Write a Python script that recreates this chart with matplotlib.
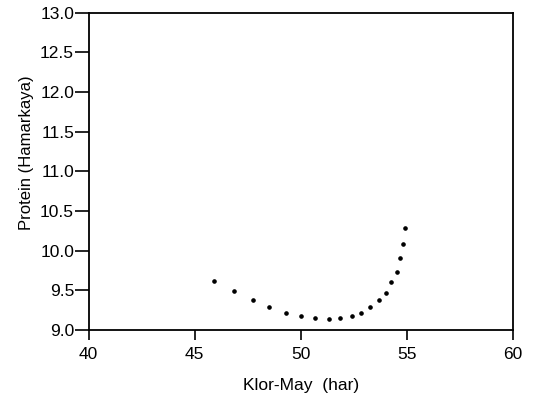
import matplotlib
matplotlib.use("Agg")
import matplotlib.pyplot as plt

klor_may = [45.90, 46.83, 47.75, 48.50, 49.32, 50.01, 50.68, 51.34, 51.84, 52.42,
            52.83, 53.25, 53.68, 54.00, 54.25, 54.52, 54.66, 54.83, 54.93]
protein = [9.62, 9.49, 9.38, 9.29, 9.22, 9.175, 9.154, 9.134, 9.154, 9.175,
           9.22, 9.29, 9.38, 9.465, 9.60, 9.73, 9.91, 10.09, 10.285]

x_ticks = [40, 45, 50, 55, 60]
y_ticks = [9.0, 9.5, 10.0, 10.5, 11.0, 11.5, 12.0, 12.5, 13.0]

plt.rcParams['font.family'] = ['Liberation Sans', 'DejaVu Sans']

fig = plt.figure(figsize=(5.33, 3.99), dpi=100)
ax = fig.add_axes([0.1664, 0.1729, 0.962 - 0.1664, 0.968 - 0.1729])
ax.plot(klor_may, protein, linestyle='none', marker='o', markersize=2.3, color='black')

ax.set_xlim(40, 60)
ax.set_ylim(9.0, 13.0)
ax.set_xticks(x_ticks)
ax.set_xticklabels([str(v) for v in x_ticks])
ax.set_yticks(y_ticks)
ax.set_yticklabels([f"{v:.1f}" for v in y_ticks])
ax.tick_params(direction='out', width=1.2, labelsize=12.5, colors='black')
ax.tick_params(axis='x', length=7, pad=5.5)
ax.tick_params(axis='y', length=10, pad=0.5)
for s in ax.spines.values():
    s.set_linewidth(1.3)

ax.set_xlabel("Klor-May  (har)", fontsize=12.5, labelpad=11)
ax.set_ylabel("Protein (Hamarkaya)", fontsize=12)
ax.yaxis.set_label_coords(-0.13, 0.558)

fig.savefig("out.png", dpi=100)
